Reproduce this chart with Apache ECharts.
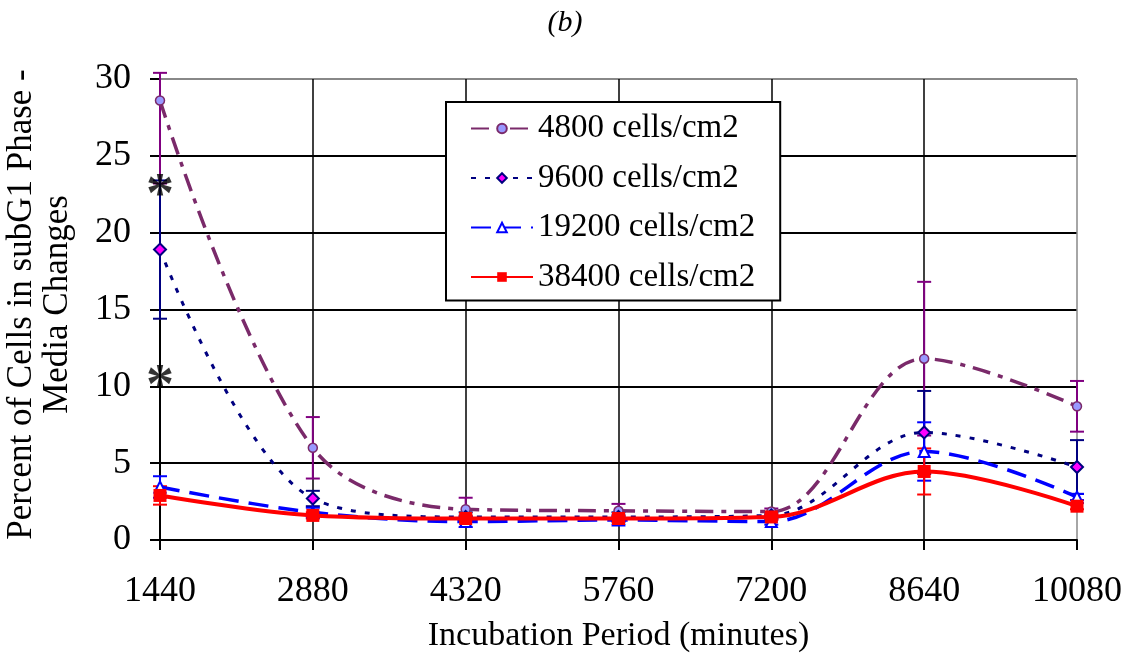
<!DOCTYPE html>
<html>
<head>
<meta charset="utf-8">
<script src="https://cdn.jsdelivr.net/npm/echarts@6.0.0/dist/echarts.min.js"></script>
<style>
  html, body { margin: 0; padding: 0; background: #fff; }
  #chart { width: 1132px; height: 658px; }
</style>
</head>
<body>
<div id="chart"></div>
<script>
// Incubation time points (minutes)
const minutes = [1440, 2880, 4320, 5760, 7200, 8640, 10080];
const xTicks = [1440, 2880, 4320, 5760, 7200, 8640, 10080];
const yTicks = [0, 5, 10, 15, 20, 25, 30];

// Percent of cells in subG1 phase, per seeding density
const names = ['4800 cells/cm2', '9600 cells/cm2', '19200 cells/cm2', '38400 cells/cm2'];
const d4800  = [28.6, 6.0, 2.0, 1.9, 1.85, 11.8, 8.7];
const d9600  = [18.9, 2.7, 1.5, 1.5, 1.6, 7.0, 4.75];
const d19200 = [3.45, 1.8, 1.2, 1.3, 1.2, 5.76, 2.8];
const d38400 = [2.9, 1.6, 1.4, 1.4, 1.5, 4.46, 2.2];

// Error bar half-widths (standard deviation)
const e4800  = [5.4, 2.0, 0.75, 0.45, 0.2, 5.0, 1.65];
const e9600  = [4.5, 0.5, 0.3, 0.3, 0.2, 2.7, 1.75];
const e19200 = [0.7, 0.3, 0.35, 0.3, 0.2, 1.9, 0.2];
const e38400 = [0.6, 0.2, 0.2, 0.2, 0.2, 1.5, 0.2];

// Significance markers
const starMarks = [[1440, 23.2], [1440, 10.8]];

const FONT = '"Liberation Serif", "Times New Roman", serif';
const AXIS_MAX = 30.4;
const SMOOTH = 0.35;

function pairs(vals) { return minutes.map((m, i) => [m, vals[i]]); }
function errRows(vals, errs) {
  return minutes.map((m, i) => [m, Math.max(0, vals[i] - errs[i]), Math.min(AXIS_MAX, vals[i] + errs[i])]);
}

function errorBarSeries(vals, errs, color) {
  return {
    type: 'custom',
    data: errRows(vals, errs),
    z: 1,
    silent: true,
    renderItem: function (params, api) {
      const x = api.value(0);
      const lo = api.coord([x, api.value(1)]);
      const hi = api.coord([x, api.value(2)]);
      const cap = 7;
      const style = { stroke: color, lineWidth: 2, fill: null };
      return {
        type: 'group',
        children: [
          { type: 'line', shape: { x1: lo[0], y1: lo[1], x2: hi[0], y2: hi[1] }, style: style },
          { type: 'line', shape: { x1: hi[0] - cap, y1: hi[1], x2: hi[0] + cap, y2: hi[1] }, style: style },
          { type: 'line', shape: { x1: lo[0] - cap, y1: lo[1], x2: lo[0] + cap, y2: lo[1] }, style: style }
        ]
      };
    }
  };
}

const chart = echarts.init(document.getElementById('chart'), null, { renderer: 'canvas' });

const option = {
  backgroundColor: '#ffffff',
  animation: false,
  title: {
    text: '(b)',
    left: 560,
    top: 3,
    textAlign: 'center',
    textStyle: { fontFamily: FONT, fontSize: 30, fontStyle: 'italic', fontWeight: 'normal', color: '#000' }
  },
  grid: { left: 160, right: 55, top: 79, bottom: 118, containLabel: false, outerBoundsMode: 'none' },
  legend: {
    orient: 'vertical',
    left: 446,
    top: 102,
    padding: [10, 25, 7, 24],
    itemGap: 16.5,
    itemWidth: 62,
    itemHeight: 12,
    backgroundColor: '#fff',
    borderColor: '#000',
    borderWidth: 2,
    textStyle: { fontFamily: FONT, fontSize: 33, color: '#000' },
    data: names
  },
  xAxis: {
    type: 'value',
    min: 1440,
    max: 10080,
    interval: 1440,
    name: 'Incubation Period (minutes)',
    nameLocation: 'middle',
    nameGap: 79,
    nameTextStyle: { fontFamily: FONT, fontSize: 34, color: '#000' },
    axisLine: { show: true, lineStyle: { color: '#000', width: 2 } },
    axisTick: { show: true, inside: false, length: 10, lineStyle: { color: '#000', width: 2 } },
    axisLabel: {
      fontFamily: FONT, fontSize: 36, color: '#000', margin: 34,
      formatter: function (v) { return xTicks.indexOf(v) >= 0 ? String(v) : ''; }
    },
    splitLine: { show: true, lineStyle: { color: ['#000', '#000', '#000', '#000', '#000', '#000', '#888'], width: 1.5 } }
  },
  yAxis: {
    type: 'value',
    min: 0,
    max: 30,
    interval: 5,
    name: 'Percent of Cells in subG1 Phase -\nMedia Changes',
    nameLocation: 'middle',
    nameGap: 84,
    nameTextStyle: { fontFamily: FONT, fontSize: 35, color: '#000', lineHeight: 36, padding: [0, 0, 0, 10] },
    axisLine: { show: true, lineStyle: { color: '#000', width: 2 } },
    axisTick: { show: true, inside: false, length: 10, lineStyle: { color: '#000', width: 2 } },
    axisLabel: {
      fontFamily: FONT, fontSize: 36, color: '#000', margin: 29,
      formatter: function (v) { return yTicks.indexOf(v) >= 0 ? String(v) : ''; }
    },
    splitLine: { show: true, lineStyle: { color: ['#000', '#000', '#000', '#000', '#000', '#000', '#888'], width: 2 } }
  },
  series: [
    errorBarSeries(d4800, e4800, '#800080'),
    errorBarSeries(d9600, e9600, '#000080'),
    errorBarSeries(d19200, e19200, '#0000ff'),
    errorBarSeries(d38400, e38400, '#ff0000'),
    {
      name: names[0],
      type: 'line',
      data: pairs(d4800),
      smooth: SMOOTH,
      z: 3,
      symbol: 'circle',
      symbolSize: 9,
      itemStyle: { color: '#9999ff', borderColor: '#7a2a6a', borderWidth: 1.5 },
      lineStyle: { color: '#7a2a6a', width: 3.5, type: [18, 8, 5, 8] }
    },
    {
      name: names[1],
      type: 'line',
      data: pairs(d9600),
      smooth: SMOOTH,
      z: 3,
      symbol: 'diamond',
      symbolSize: 12,
      itemStyle: { color: '#ff00ff', borderColor: '#000080', borderWidth: 2 },
      lineStyle: { color: '#000080', width: 3, type: [5, 9] }
    },
    {
      name: names[2],
      type: 'line',
      data: pairs(d19200),
      smooth: SMOOTH,
      z: 4,
      symbol: 'triangle',
      symbolSize: 11,
      itemStyle: { color: '#ffffff', borderColor: '#0000ff', borderWidth: 2 },
      lineStyle: { color: '#0000ff', width: 3.5, type: [20, 10] }
    },
    {
      name: names[3],
      type: 'line',
      data: pairs(d38400),
      smooth: SMOOTH,
      z: 5,
      symbol: 'rect',
      symbolSize: 13,
      itemStyle: { color: '#ff0000', borderColor: '#ff0000', borderWidth: 0 },
      lineStyle: { color: '#ff0000', width: 4, type: 'solid' }
    },
    {
      type: 'scatter',
      data: starMarks,
      symbolSize: 0,
      z: 6,
      silent: true,
      label: {
        show: true,
        position: 'inside',
        formatter: '*',
        offset: [0, 14],
        fontFamily: FONT,
        fontSize: 56,
        fontWeight: 'bold',
        color: '#000'
      }
    }
  ]
};

chart.setOption(option);
</script>
</body>
</html>
